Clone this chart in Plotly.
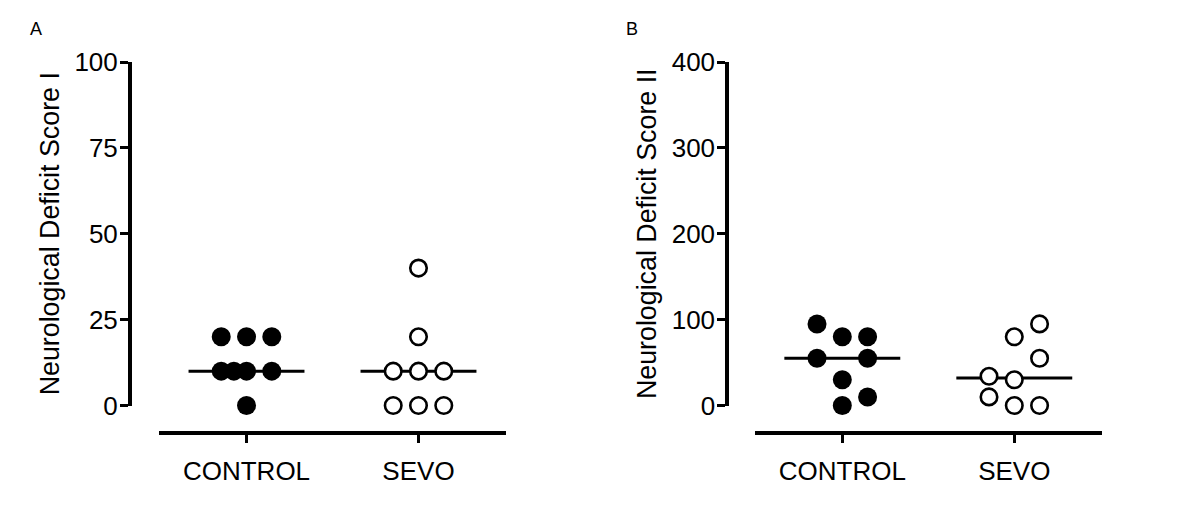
import numpy as np
import plotly.graph_objects as go

# ---- data ----
CATEGORIES = ["CONTROL", "SEVO"]

A_CONTROL = [20, 20, 20, 10, 10, 10, 10, 0]
A_SEVO = [40, 20, 10, 10, 10, 0, 0, 0]
B_CONTROL = [95, 80, 80, 55, 55, 30, 10, 0]
B_SEVO = [95, 80, 55, 34, 30, 10, 0, 0]

A_YTICKS = [0, 25, 50, 75, 100]
B_YTICKS = [0, 100, 200, 300, 400]

A_TITLE = "Neurological Deficit Score I"
B_TITLE = "Neurological Deficit Score II"

# horizontal scatter slots (column index of each dot, as drawn)
A_CONTROL_SLOT = [-1, 0, 1, -1, -0.5, 0, 1, 0]
A_SEVO_SLOT = [0, 0, -1, 0, 1, -1, 0, 1]
B_CONTROL_SLOT = [-1, 0, 1, -1, 1, 0, 1, 0]
B_SEVO_SLOT = [1, 0, 1, -1, 0, -1, 0, 1]

# ---- layout helpers ----
OFF = 8  # page body margin
W, H = 1200 - OFF, 519 - OFF
SLOT = 0.147
HALF = 0.337
FONT = "Liberation Sans, Arial, Helvetica, sans-serif"


def px(p):
    return (p - OFF) / W


def py(p):
    return 1 - (p - OFF) / H


fig = go.Figure()

panels = [
    dict(ctrl=A_CONTROL, sevo=A_SEVO, cs=A_CONTROL_SLOT, ss=A_SEVO_SLOT,
         xa="x", ya="y"),
    dict(ctrl=B_CONTROL, sevo=B_SEVO, cs=B_CONTROL_SLOT, ss=B_SEVO_SLOT,
         xa="x2", ya="y2"),
]

for p in panels:
    for g, (vals, slots, filled) in enumerate(
            [(p["ctrl"], p["cs"], True), (p["sevo"], p["ss"], False)], start=1):
        med = float(np.median(vals))
        fig.add_trace(go.Scatter(
            x=[g - HALF, g + HALF], y=[med, med], mode="lines",
            line=dict(color="black", width=3),
            xaxis=p["xa"], yaxis=p["ya"], showlegend=False, hoverinfo="skip"))
        if filled:
            marker = dict(size=19, color="black", line=dict(width=0))
        else:
            marker = dict(size=16.5, color="white",
                          line=dict(color="black", width=2.6))
        fig.add_trace(go.Scatter(
            x=[g + SLOT * s for s in slots], y=vals, mode="markers",
            marker=marker, cliponaxis=False,
            xaxis=p["xa"], yaxis=p["ya"], showlegend=False))

ydom = [py(405.5), py(62)]
xpos = py(433.3)

common_x = dict(
    range=[0.49, 2.51], anchor="free", position=xpos, automargin=False,
    showline=True, linewidth=4, linecolor="black",
    ticks="outside", ticklen=8, tickwidth=3, tickcolor="black",
    tickvals=[1, 2], ticktext=CATEGORIES,
    tickfont=dict(family=FONT, size=26, color="black"),
    ticklabelstandoff=5,
    showgrid=False, zeroline=False, fixedrange=True,
)
common_y = dict(
    domain=ydom, anchor="free", automargin=False,
    showline=True, linewidth=4, linecolor="black",
    ticks="outside", ticklen=8, tickwidth=3, tickcolor="black",
    tickfont=dict(family=FONT, size=26, color="black"),
    ticklabelstandoff=-3,
    showgrid=False, zeroline=False, fixedrange=True,
)

fig.update_layout(
    template="none",
    width=W, height=H,
    margin=dict(l=0, r=0, t=0, b=0, pad=0),
    paper_bgcolor="white", plot_bgcolor="white",
    font=dict(family=FONT, color="black"),
    xaxis=dict(domain=[px(158.8), px(506.2)], **common_x),
    xaxis2=dict(domain=[px(754.6), px(1102)], **common_x),
    yaxis=dict(range=[0, 100], position=px(130), tickvals=A_YTICKS,
               title=dict(text=A_TITLE, font=dict(family=FONT, size=26.8),
                          standoff=6),
               **common_y),
    yaxis2=dict(range=[0, 400], position=px(727.3), tickvals=B_YTICKS,
                title=dict(text=B_TITLE, font=dict(family=FONT, size=26.8),
                           standoff=6),
                **common_y),
    annotations=[
        dict(text="A", x=px(36), y=py(29), xref="paper", yref="paper",
             showarrow=False, xanchor="center", yanchor="middle",
             font=dict(family=FONT, size=18, color="black")),
        dict(text="B", x=px(632), y=py(29), xref="paper", yref="paper",
             showarrow=False, xanchor="center", yanchor="middle",
             font=dict(family=FONT, size=18, color="black")),
    ],
)

fig.write_html("out.html")
